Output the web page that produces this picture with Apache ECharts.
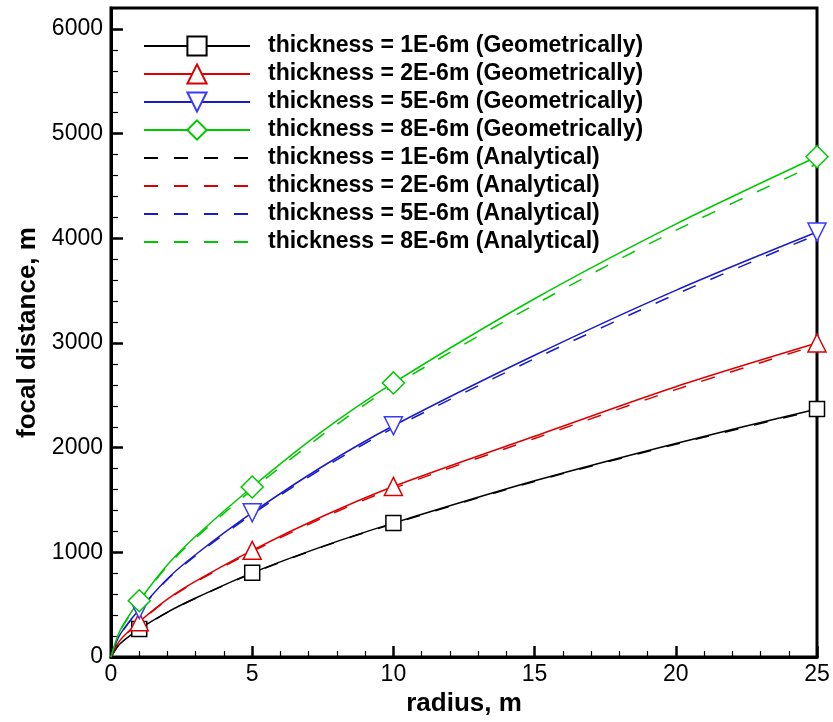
<!doctype html>
<html>
	<head>
		<meta charset="UTF-8">
		<title>focal distance</title>
		<script src="https://cdn.jsdelivr.net/npm/echarts@6/dist/echarts.min.js"></script>
		<style type="text/css">
			html, body { margin: 0; padding: 0; background: #fff; }
			#chart { width: 833px; height: 722px; }
		</style>
	</head>
	<body>
		<div id="chart"></div>
		<script type="text/javascript">
			var radius = [0, 0.25, 0.5, 1, 2, 3, 5, 7.5, 10, 15, 20, 25];
			// radii that carry a marker on the geometric curves
			var markerRadius = [1, 5, 10, 25];

			// focal distance (m), geometric
			var geo1 = [0, 107, 170, 268, 430, 565, 805, 1058, 1280, 1684, 2041, 2370];
			var geo2 = [0, 134, 213, 338, 554, 725, 1020, 1345, 1630, 2110, 2583, 3000];
			var geo5 = [0, 180, 286, 454, 749, 980, 1379, 1823, 2210, 2883, 3503, 4060];
			var geo8 = [0, 212, 338, 538, 882, 1155, 1625, 2160, 2619, 3423, 4136, 4779];
			// focal distance (m), analytical
			var ana1 = [0, 106, 168, 266, 428, 562, 800, 1055, 1275, 1678, 2033, 2360];
			var ana2 = [0, 132, 210, 333, 548, 717, 1008, 1330, 1612, 2088, 2555, 2980];
			var ana5 = [0, 178, 283, 449, 742, 970, 1365, 1805, 2188, 2850, 3465, 4035];
			var ana8 = [0, 208, 330, 530, 870, 1138, 1600, 2125, 2590, 3366, 4076, 4710];

			var xTicks = [0, 5, 10, 15, 20, 25];
			var yTicks = [0, 1000, 2000, 3000, 4000, 5000, 6000];

			var names = ['1E-6m', '2E-6m', '5E-6m', '8E-6m'];
			var geo = [geo1, geo2, geo5, geo8];
			var ana = [ana1, ana2, ana5, ana8];

			var lineColors = ['#000000', '#dd0000', '#1a1ac8', '#00c800'];
			var markColors = ['#000000', '#dd0000', '#3838ff', '#00c800'];
			var symbols = ['rect', 'triangle', 'triangle', 'diamond'];
			var rotates = [0, 0, 180, 0];
			var sizes = [15, 18, 18, 22];

			var font = "'Liberation Sans', Arial, sans-serif";

			function pairs(vals, withMarks) {
				var out = [];
				for (var i = 0; i < radius.length; i++) {
					var item = { value: [radius[i], vals[i]] };
					if (withMarks && markerRadius.indexOf(radius[i]) < 0) {
						item.symbol = 'none';
					}
					out.push(item);
				}
				return out;
			}

			var series = [];
			var legendData = [];
			for (var k = 0; k < 4; k++) {
				var n = 'thickness = ' + names[k] + ' (Geometrically)';
				legendData.push(n);
				series.push({
					name: n,
					type: 'line',
					data: pairs(geo[k], true),
					smooth: 0.3,
					symbol: symbols[k],
					symbolRotate: rotates[k],
					symbolSize: sizes[k],
					showSymbol: true,
					color: lineColors[k],
					lineStyle: { color: lineColors[k], width: 1.5 },
					itemStyle: { color: '#ffffff', borderColor: markColors[k], borderWidth: 1.5 },
					z: 3
				});
			}
			for (var k = 0; k < 4; k++) {
				var n = 'thickness = ' + names[k] + ' (Analytical)';
				legendData.push(n);
				series.push({
					name: n,
					type: 'line',
					data: pairs(ana[k], false),
					smooth: 0.3,
					symbol: 'circle',
					symbolSize: 0,
					showSymbol: false,
					color: lineColors[k],
					lineStyle: { color: lineColors[k], width: 1.5, type: [14, 16] },
					itemStyle: { color: 'rgba(0,0,0,0)', borderWidth: 0 },
					z: 2
				});
			}

			var chart = echarts.init(document.getElementById('chart'));
			var option = {
				animation: false,
				backgroundColor: '#ffffff',
				grid: {
					left: 111, right: 16, top: 8, bottom: 58,
					show: true, borderColor: '#000', borderWidth: 3
				},
				legend: {
					data: legendData,
					orient: 'vertical',
					left: 143,
					top: 34,
					padding: 0,
					itemWidth: 106,
					itemHeight: 24,
					itemGap: 4,
					selectedMode: false,
					textStyle: {
						fontFamily: font, fontSize: 23, fontWeight: 'bold', color: '#000',
						lineHeight: 24,
						padding: [0, 0, 0, 13]
					}
				},
				xAxis: {
					type: 'value',
					min: 0, max: 25, interval: 5,
					name: 'radius, m',
					nameLocation: 'middle',
					nameGap: 28,
					nameTextStyle: { fontFamily: font, fontSize: 26, fontWeight: 'bold', color: '#000' },
					axisLine: { lineStyle: { color: '#000', width: 3 } },
					axisTick: { inside: true, length: 11, lineStyle: { color: '#000', width: 2.5 } },
					minorTick: { show: true, splitNumber: 5, length: 6, lineStyle: { color: '#000', width: 1.2 } },
					splitLine: { show: false },
					axisLabel: {
						margin: 6, fontFamily: font, fontSize: 23, color: '#000',
						customValues: xTicks
					}
				},
				yAxis: [{
					type: 'value',
					min: 0, max: 6200, interval: 1000,
					name: 'focal distance, m',
					nameLocation: 'middle',
					nameGap: 64,
					nameTextStyle: { fontFamily: font, fontSize: 26, fontWeight: 'bold', color: '#000' },
					axisLine: { lineStyle: { color: '#000', width: 3 } },
					axisTick: { inside: true, length: 12, lineStyle: { color: '#000', width: 2.5 }, customValues: yTicks },
					splitLine: { show: false },
					axisLabel: {
						margin: 8, fontFamily: font, fontSize: 23, color: '#000',
						customValues: yTicks,
						formatter: function (v) { return String(v); }
					}
				}, {
					// minor ticks every 200
					type: 'value',
					position: 'left',
					min: 0, max: 6200, interval: 200,
					alignTicks: false,
					axisLine: { show: false },
					axisTick: { show: true, inside: true, length: 7, lineStyle: { color: '#000', width: 1.2 } },
					axisLabel: { show: false },
					splitLine: { show: false }
				}],
				series: series
			};
			chart.setOption(option);
		</script>
	</body>
</html>
